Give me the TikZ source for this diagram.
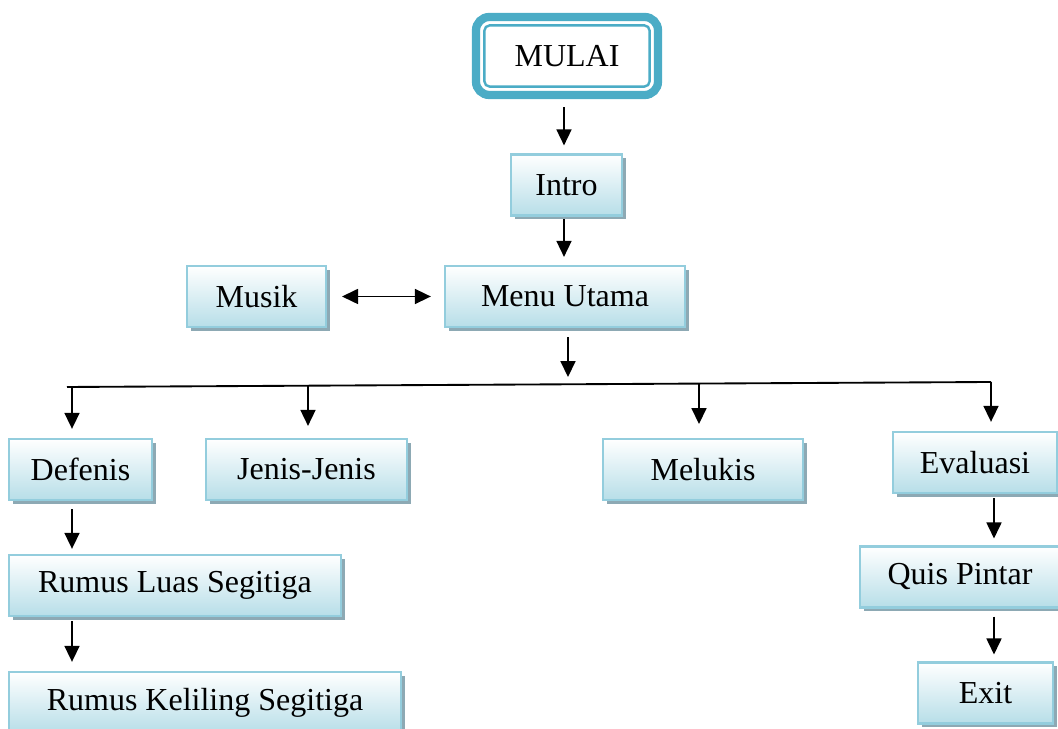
\documentclass[tikz,border=0pt]{standalone}
\usepackage{fontspec}
\setmainfont{Liberation Serif}
\usepackage{tikz}
\usetikzlibrary{arrows.meta}
\usetikzlibrary{shadows}

\definecolor{mulaiblue}{HTML}{4BACC6}
\definecolor{boxline}{HTML}{93CDDD}
\definecolor{boxfill}{HTML}{B7DEE8}
\definecolor{shadowc}{HTML}{8DA9B4}
\newcommand\px{0.375pt}

\begin{document}
\begin{tikzpicture}[x=0.375pt,y=-0.375pt]
  \tikzset{box/.style = {draw=boxline,line width=0.8pt,top color=white,bottom color=boxfill,
      minimum height=61*\px,inner sep=0pt,font=\fontsize{12}{14}\selectfont,
      drop shadow={shadow xshift=1.5pt,shadow yshift=-1.5pt,fill=shadowc,opacity=1}}}
  \tikzset{arrow/.style = {-{Triangle[width=5.6pt,length=6pt]},line width=0.7pt,
      shorten <=1.5pt,shorten >=3pt}}

  \useasboundingbox (0,0) rectangle (1058,729);

  % start
  \node[draw=mulaiblue,line width=3.1pt,rounded corners=5pt,fill=white,
        minimum width=182*\px,minimum height=78*\px,font=\fontsize{12}{14}\selectfont] (mulai) at (567,56) {MULAI};
  \draw[mulaiblue,line width=0.9pt,rounded corners=2pt]
        ([shift={(12.5,12.5)}]mulai.north west) rectangle ([shift={(-12.5,-12.5)}]mulai.south east);

  \node[box,minimum width=111*\px] (intro) at (566.5,185) {Intro};
  \node[box,minimum width=240*\px] (menu) at (565,296.5) {Menu Utama};
  \node[box,minimum width=139*\px] (musik) at (256.5,296.5) {Musik};

  \node[box,minimum width=143*\px] (defenis) at (80.5,469.5) {Defenis};
  \node[box,minimum width=201*\px] (jenis) at (306.5,469.5) {Jenis-Jenis};
  \node[box,minimum width=200*\px] (melukis) at (703,469.5) {Melukis};
  \node[box,minimum width=164*\px] (evaluasi) at (975,462.5) {Evaluasi};

  \node[box,minimum width=332*\px] (luas) at (175,585.5) {Rumus Luas Segitiga};
  \node[box,minimum width=392*\px] (keliling) at (205,702.5) {Rumus Keliling Segitiga};

  \node[box,minimum width=200*\px] (quis) at (960,577) {Quis Pintar};
  \node[box,minimum width=135*\px] (exit) at (985.5,693) {Exit};

  % bus
  \coordinate (bL) at (67,387);
  \coordinate (b1) at (72,387);
  \coordinate (b2) at (308,386);
  \coordinate (bm) at (568,384);
  \coordinate (b3) at (699,384);
  \coordinate (b4) at (991,382);
  \coordinate (ct) at (564,0);
  \coordinate (ce) at (994,0);

  \draw[line width=0.7pt] (bL) -- (b4);

  \draw[arrow,shorten <=3pt] (ct |- mulai.south) -- (ct |- intro.north);
  \draw[arrow,shorten <=1pt] (ct |- intro.south) -- (ct |- menu.north);
  \draw[{Triangle[width=5.6pt,length=6pt]}-{Triangle[width=5.6pt,length=6pt]},line width=0.7pt,
        shorten <=5.6pt,shorten >=4.9pt] (musik.east) -- (menu.east -| menu.west);
  \draw[arrow,shorten <=3.4pt,shorten >=2.6pt] (bm |- menu.south) -- (bm);

  \foreach \from/\to/\gap in {b1/defenis/3.4pt, b2/jenis/4.5pt, b3/melukis/5.2pt, b4/evaluasi/3.4pt}
    \draw[arrow,shorten <=0pt,shorten >=\gap] (\from) -- (\from |- \to.north);

  \draw[arrow,shorten <=3pt,shorten >=1.9pt] (b1 |- defenis.south) -- (b1 |- luas.north);
  \draw[arrow,shorten <=1.5pt,shorten >=3.4pt] (b1 |- luas.south) -- (b1 |- keliling.north);
  \draw[arrow,shorten <=1.5pt,shorten >=2.6pt] (ce |- evaluasi.south) -- (ce |- quis.north);
  \draw[arrow,shorten <=3pt,shorten >=2.6pt] (ce |- quis.south) -- (ce |- exit.north);
\end{tikzpicture}
\end{document}
